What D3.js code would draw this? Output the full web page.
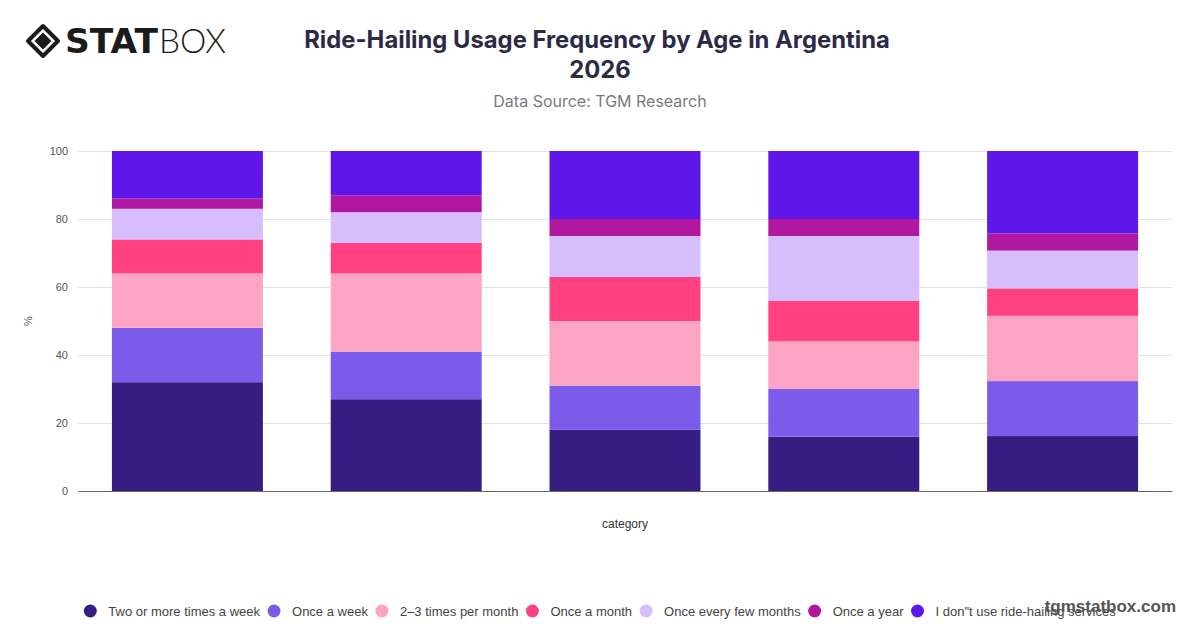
<!DOCTYPE html>
<html>
<head>
<meta charset="utf-8">
<script src="https://cdn.jsdelivr.net/npm/d3@7"></script>
<style>
html,body{margin:0;padding:0;background:#fff;}
svg{display:block;}
</style>
</head>
<body>
<svg id="chart" width="1200" height="628"></svg>
<script>
const categories = ["18–24", "25–34", "35–44", "45–54", "55+"];
const seriesNames = ["Two or more times a week", "Once a week", "2–3 times per month", "Once a month", "Once every few months", "Once a year", "I don\"t use ride-hailing services"];
const twoOrMore   = [32, 27, 18, 16, 16];
const onceWeek    = [16, 14, 13, 14, 16];
const twoThree    = [16, 23, 19, 14, 19];
const onceMonth   = [10,  9, 13, 12,  8];
const fewMonths   = [ 9,  9, 12, 19, 11];
const onceYear    = [ 3,  5,  5,  5,  5];
const dontUse     = [14, 13, 20, 20, 24];
const yTicks = [0, 20, 40, 60, 80, 100];
const colors = ["#371D82", "#7B5CEA", "#FDA3C3", "#FF4081", "#D6BDFB", "#B0199F", "#5F17E9"];

const seriesValues = [twoOrMore, onceWeek, twoThree, onceMonth, fewMonths, onceYear, dontUse];
const rows = categories.map((c, i) => {
  const r = {category: c};
  seriesNames.forEach((s, j) => r[s] = seriesValues[j][i]);
  return r;
});

const svg = d3.select("#chart");
const margin = {left: 78, right: 28, top: 151, bottom: 137};
const W = 1200, H = 628;

const x = d3.scaleBand().domain(categories).range([margin.left, W - margin.right]).paddingInner(0.31).paddingOuter(0.155);
const y = d3.scaleLinear().domain([0, 1]).range([H - margin.bottom, margin.top]);

const stack = d3.stack().keys(seriesNames).offset(d3.stackOffsetExpand);
const stacked = stack(rows);

// gridlines
const yAxis = d3.axisLeft(y).tickValues(yTicks.map(t => t / 100)).tickFormat((d, i) => yTicks[i]).tickSize(-(W - margin.left - margin.right)).tickPadding(10);
const gy = svg.append("g").attr("transform", `translate(${margin.left},0)`).call(yAxis);
gy.select(".domain").remove();
gy.selectAll(".tick line").attr("stroke", "#e3e3e3").attr("stroke-width", 1);
gy.selectAll(".tick text").attr("fill", "#555").style("font-family", "'Liberation Sans', Arial, sans-serif").style("font-size", "11px");

// bars
svg.append("g").selectAll("g").data(stacked).join("g")
  .attr("fill", (d, i) => colors[i])
  .selectAll("rect").data(d => d).join("rect")
  .attr("x", d => x(d.data.category))
  .attr("width", x.bandwidth())
  .attr("y", d => y(d[1]))
  .attr("height", d => y(d[0]) - y(d[1]));

// x axis
const xAxis = d3.axisBottom(x).tickFormat("").tickSize(0);
const gx = svg.append("g").attr("transform", `translate(0,${H - margin.bottom})`).call(xAxis);
gx.select(".domain").attr("stroke", "#666").attr("stroke-width", 1.2);

// axis titles
svg.append("text").attr("x", (margin.left + W - margin.right) / 2).attr("y", 528)
  .attr("text-anchor", "middle").attr("fill", "#333")
  .style("font-family", "'Liberation Sans', Arial, sans-serif").style("font-size", "12px").text("category");
svg.append("text").attr("transform", "translate(32,321) rotate(-90)")
  .attr("text-anchor", "middle").attr("fill", "#555")
  .style("font-family", "'Liberation Sans', Arial, sans-serif").style("font-size", "11px").text("%");

// title
svg.append("text").attr("x", 597).attr("y", 48).attr("text-anchor", "middle")
  .attr("fill", "#2D2A45").style("font-family", "Inter, sans-serif").style("font-weight", 700).style("font-size", "23.8px")
  .text("Ride-Hailing Usage Frequency by Age in Argentina");
svg.append("text").attr("x", 600).attr("y", 78).attr("text-anchor", "middle")
  .attr("fill", "#2D2A45").style("font-family", "Inter, sans-serif").style("font-weight", 700).style("font-size", "23.8px")
  .text("2026");
svg.append("text").attr("x", 600).attr("y", 107).attr("text-anchor", "middle")
  .attr("fill", "#7a7a7a").style("font-family", "Inter, sans-serif").style("font-size", "16px")
  .text("Data Source: TGM Research");

// legend
const lg = svg.append("g");
let lx = 0;
seriesNames.forEach((s, i) => {
  const it = lg.append("g").attr("transform", `translate(${lx},0)`);
  it.append("circle").attr("cx", 6).attr("cy", 0).attr("r", 6.5).attr("fill", colors[i]);
  const t = it.append("text").attr("x", 24).attr("y", 4.5).attr("fill", "#444")
    .style("font-family", "'Liberation Sans', Arial, sans-serif").style("font-size", "13px").text(s);
  const w = t.node().getComputedTextLength();
  lx += 24 + w + 8;
});
const legW = lx - 8;
lg.attr("transform", `translate(${600 - legW / 2},611)`);

// watermark
svg.append("text").attr("x", 1176).attr("y", 612).attr("text-anchor", "end")
  .attr("fill", "#555").style("font-family", "'Liberation Sans', Arial, sans-serif").style("font-weight", 700).style("font-size", "17px")
  .text("tgmstatbox.com");

// logo
const logo = svg.append("g").attr("transform", "translate(43,41)");
logo.append("path").attr("d", "M0,-15 L15,0 L0,15 L-15,0 Z").attr("fill", "none").attr("stroke", "#1b1b1b").attr("stroke-width", 4).attr("stroke-linejoin", "round");
logo.append("path").attr("d", "M0,-8.5 L8.5,0 L0,8.5 L-8.5,0 Z").attr("fill", "#1b1b1b");
svg.append("text").attr("x", 65).attr("y", 53)
  .style("font-family", "'DejaVu Sans', sans-serif").style("font-weight", 900).style("font-size", "33px")
  .attr("fill", "#1b1b1b").attr("textLength", 93).attr("lengthAdjust", "spacingAndGlyphs").text("STAT");
svg.append("text").attr("x", 159).attr("y", 53)
  .style("font-family", "Lato, 'Open Sans', sans-serif").style("font-weight", 300).style("font-size", "34px")
  .attr("fill", "#1b1b1b").attr("textLength", 67).attr("lengthAdjust", "spacingAndGlyphs").text("BOX");
</script>
</body>
</html>
